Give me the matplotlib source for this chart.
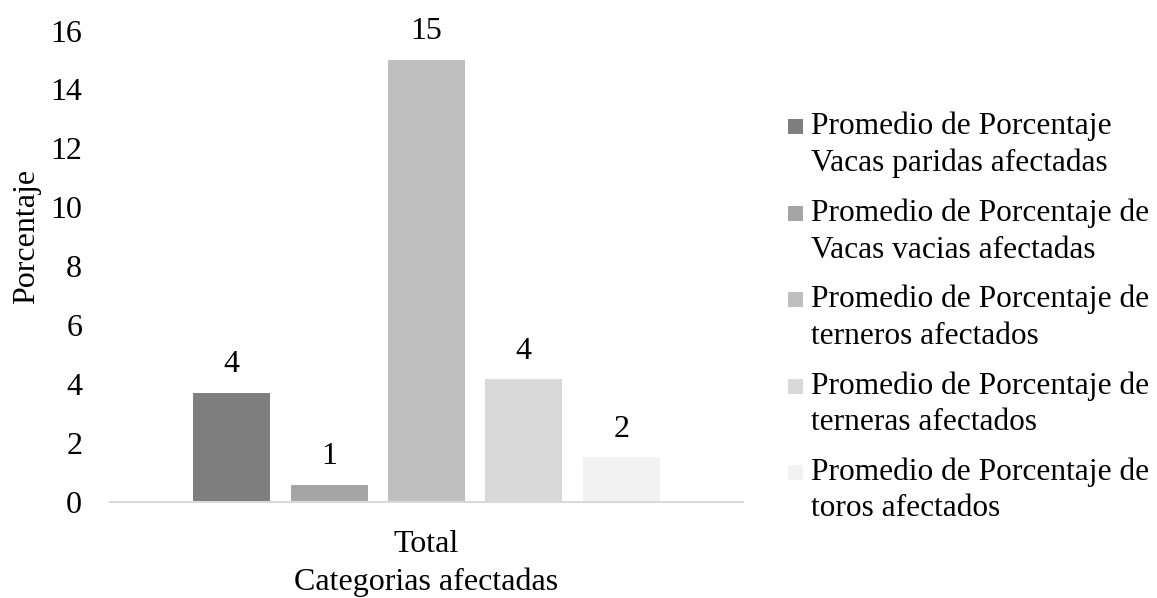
import matplotlib
matplotlib.use("Agg")
import matplotlib.pyplot as plt
from matplotlib.patches import Rectangle
import numpy as np

categories = ["Total"]
series_line1 = [
    "Promedio de Porcentaje",
    "Promedio de Porcentaje de",
    "Promedio de Porcentaje de",
    "Promedio de Porcentaje de",
    "Promedio de Porcentaje de",
]
series_line2 = [
    "Vacas paridas afectadas",
    "Vacas vacias afectadas",
    "terneros afectados",
    "terneras afectados",
    "toros afectados",
]
values = [3.70, 0.58, 15.0, 4.17, 1.52]
colors = ["#7f7f7f", "#a5a5a5", "#bfbfbf", "#d9d9d9", "#f2f2f2"]
yticks = [0, 2, 4, 6, 8, 10, 12, 14, 16]

plt.rcParams['font.family'] = ['Liberation Serif', 'DejaVu Serif']
FS = 23
LFS = 22.6

W, H = 1157, 598
fig = plt.figure(figsize=(W / 100, H / 100), dpi=100)
ax = fig.add_axes([110 / W, (H - 502) / H, 633 / W, (502 - 30.5) / H])

n = len(values)
slot = 0.769 / n
bw = 0.1216
for i, (v, c) in enumerate(zip(values, colors)):
    xi = -0.769 / 2 + slot * (i + 0.5)
    ax.bar(xi, v, width=bw, color=c, zorder=2)
    ax.annotate(f"{v:.0f}", (xi, v), xytext=(0, 28), textcoords="offset pixels",
                ha="center", va="center", fontsize=FS)

ax.set_xlim(-0.5, 0.5)
ax.set_ylim(0, 16)
ax.set_yticks(yticks)
ax.set_yticklabels([str(t) for t in yticks], fontsize=FS)
ax.set_xticks([0])
ax.set_xticklabels(categories, fontsize=FS)
ax.tick_params(axis="y", length=0, pad=20)
ax.tick_params(axis="x", length=0, pad=20)
for s in ["top", "right", "left"]:
    ax.spines[s].set_visible(False)
ax.spines["bottom"].set_color("#d9d9d9")
ax.spines["bottom"].set_linewidth(1.5)
ax.set_xlabel("Categorias afectadas", fontsize=FS, labelpad=6)
ax.set_ylabel("Porcentaje", fontsize=FS, va="center")
ax.yaxis.set_label_coords((27 - 110) / 633, (502 - 236) / 471.5)

# legend
ys = [126, 213, 299, 386, 472]
for l1, l2, c, yc in zip(series_line1, series_line2, colors, ys):
    fig.patches.append(Rectangle((788 / W, (H - yc - 7.5) / H), 15 / W, 15 / H,
                                 transform=fig.transFigure, facecolor=c, edgecolor="none"))
    fig.text(811 / W, (H - yc) / H, l1, fontsize=LFS, ha="left", va="center",
             transform=fig.transFigure)
    fig.text(811 / W, (H - yc - 37) / H, l2, fontsize=LFS, ha="left", va="center",
             transform=fig.transFigure)

fig.savefig("out.png", dpi=100)
